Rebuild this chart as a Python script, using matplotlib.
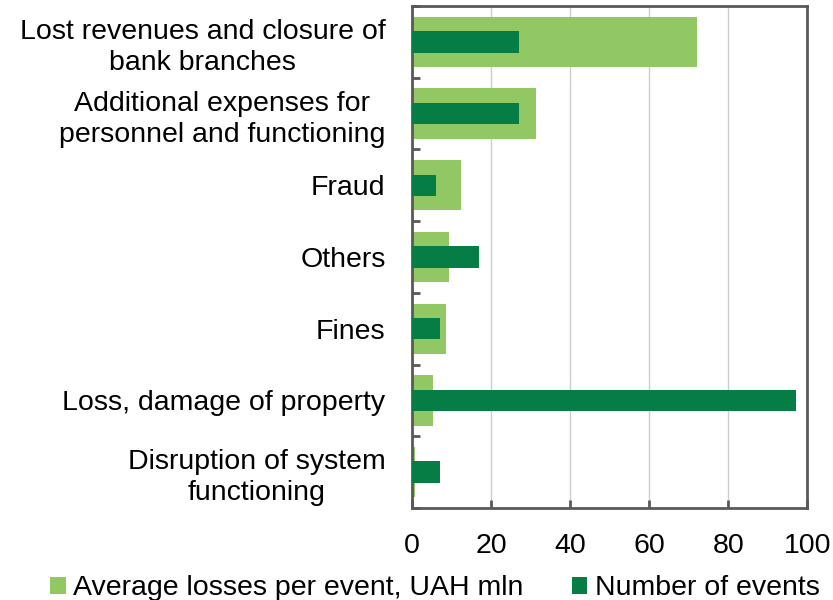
import numpy as np
import matplotlib.pyplot as plt

plt.rcParams['font.family'] = ['Liberation Sans', 'DejaVu Sans']

categories = ["Lost revenues and closure of\nbank branches",
              "Additional expenses for\npersonnel and functioning",
              "Fraud",
              "Others",
              "Fines",
              "Loss, damage of property",
              "Disruption of system\nfunctioning"]
avg_losses = [72.2, 31.4, 12.4, 9.4, 8.6, 5.3, 0.8]
num_events = [27.1, 27.0, 6.0, 17.0, 7.0, 97.1, 7.0]

light = "#92c864"
dark = "#077d46"
fs = 20.5

fig = plt.figure(figsize=(8.33, 6.0), dpi=100)
ax = fig.add_axes([0.4946, 0.1533, 0.4744, 0.8367])

y = np.arange(len(categories))
ax.barh(y, avg_losses, height=0.7, color=light, label="Average losses per event, UAH mln", zorder=2)
ax.barh(y, num_events, height=0.3, color=dark, label="Number of events", zorder=3)

ax.set_ylim(len(categories) - 0.5, -0.5)
ax.set_xlim(0, 100)
ax.set_xticks(np.arange(0, 101, 20))
ax.grid(axis='x', color='#c8ced2', linewidth=1, zorder=0)

ax.set_yticks(y)
ax.set_yticklabels(categories, fontsize=fs, linespacing=1.25, multialignment='center')
ax.set_yticks(np.arange(-0.5, len(categories), 1), minor=True)
ax.tick_params(axis='y', which='major', length=0, pad=19)
ax.tick_params(axis='y', which='minor', length=6, width=2, direction='in', color='#595959')
ax.tick_params(axis='x', length=6, width=2, direction='in', color='#595959', labelsize=fs, pad=18)

for s in ax.spines.values():
    s.set_color('#595959')
    s.set_linewidth(2)

fig.legend(loc='lower center', bbox_to_anchor=(0.522, -0.045), ncol=2, frameon=False,
           fontsize=fs, handlelength=0.55, handleheight=0.55, handletextpad=0.25,
           columnspacing=1.7)

fig.savefig("out.png", dpi=100)
